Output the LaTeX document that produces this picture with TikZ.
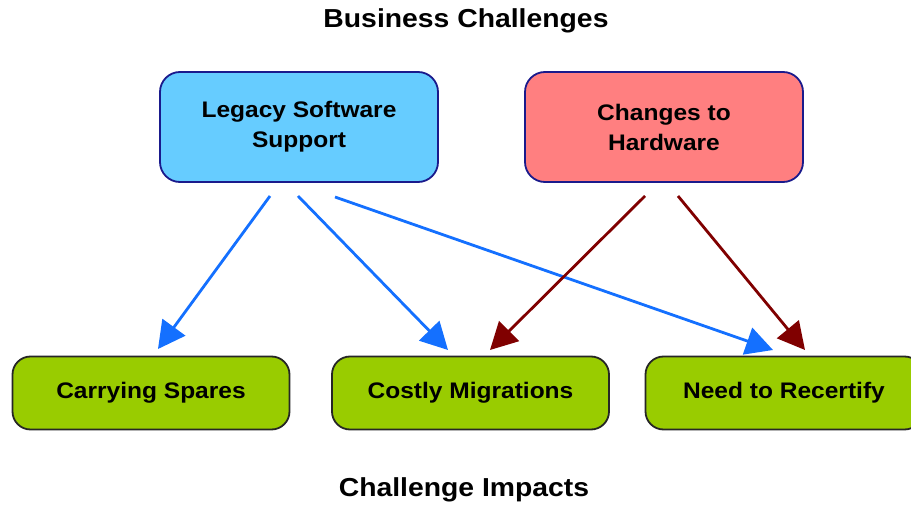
\documentclass[tikz,border=0pt]{standalone}
\usepackage{fontspec}
\setmainfont{Liberation Sans}[FakeStretch=1.09]
\usetikzlibrary{arrows.meta}
\definecolor{bluefill}{HTML}{66CCFF}
\definecolor{redfill}{HTML}{FF7F80}
\definecolor{greenfill}{HTML}{99CC00}
\definecolor{navyedge}{HTML}{1A1A8C}
\definecolor{bluearrow}{HTML}{1470FF}
\definecolor{darkred}{HTML}{800000}
\tikzset{
  topbox/.style={draw=navyedge, line width=1.8pt, rounded corners=20pt, minimum width=278pt, minimum height=110pt, align=center, font=\bfseries\fontsize{22.5}{30}\selectfont, inner sep=0pt},
  impactbox/.style={draw=black!85, fill=greenfill, line width=1.8pt, rounded corners=18pt, minimum width=277pt, minimum height=73pt, align=center, font=\bfseries\fontsize{22.5}{30}\selectfont, inner sep=0pt},
  titletext/.style={font=\bfseries\fontsize{26}{30}\selectfont, inner sep=0pt},
  bluearr/.style={draw=bluearrow, line width=2.8pt, -{Triangle[length=27pt,width=28pt]}},
  redarr/.style={draw=darkred, line width=2.8pt, -{Triangle[length=27pt,width=28pt]}}
}
\begin{document}
\begin{tikzpicture}[x=1pt,y=-1pt]
\useasboundingbox (0,0) rectangle (911,508);
\node[titletext] (title) at (466,21) {Business Challenges};
\node[titletext] (subtitle) at (464,490) {Challenge Impacts};
\node[topbox, fill=bluefill] (legacy) at (299,127) {Legacy Software\\Support};
\node[topbox, fill=redfill] (hardware) at (664,127) {Changes to\\Hardware};
\node[impactbox] (spares) at (151,393) {Carrying Spares};
\node[impactbox] (costly) at (470.5,393) {Costly Migrations};
\node[impactbox] (recert) at (784,393) {Need to Recertify};
\coordinate (l1) at (270,196);
\coordinate (l2) at (298,196);
\coordinate (l3) at (335,197);
\coordinate (h1) at (645,196);
\coordinate (h2) at (678,196);
\coordinate (s1) at (158,349);
\coordinate (c1) at (448,350);
\coordinate (c2) at (490,350);
\coordinate (r1) at (773,350);
\coordinate (r2) at (805,350);
\draw[bluearr] (l1) -- (s1);
\draw[bluearr] (l2) -- (c1);
\draw[bluearr] (l3) -- (r1);
\draw[redarr] (h1) -- (c2);
\draw[redarr] (h2) -- (r2);
\end{tikzpicture}
\end{document}
